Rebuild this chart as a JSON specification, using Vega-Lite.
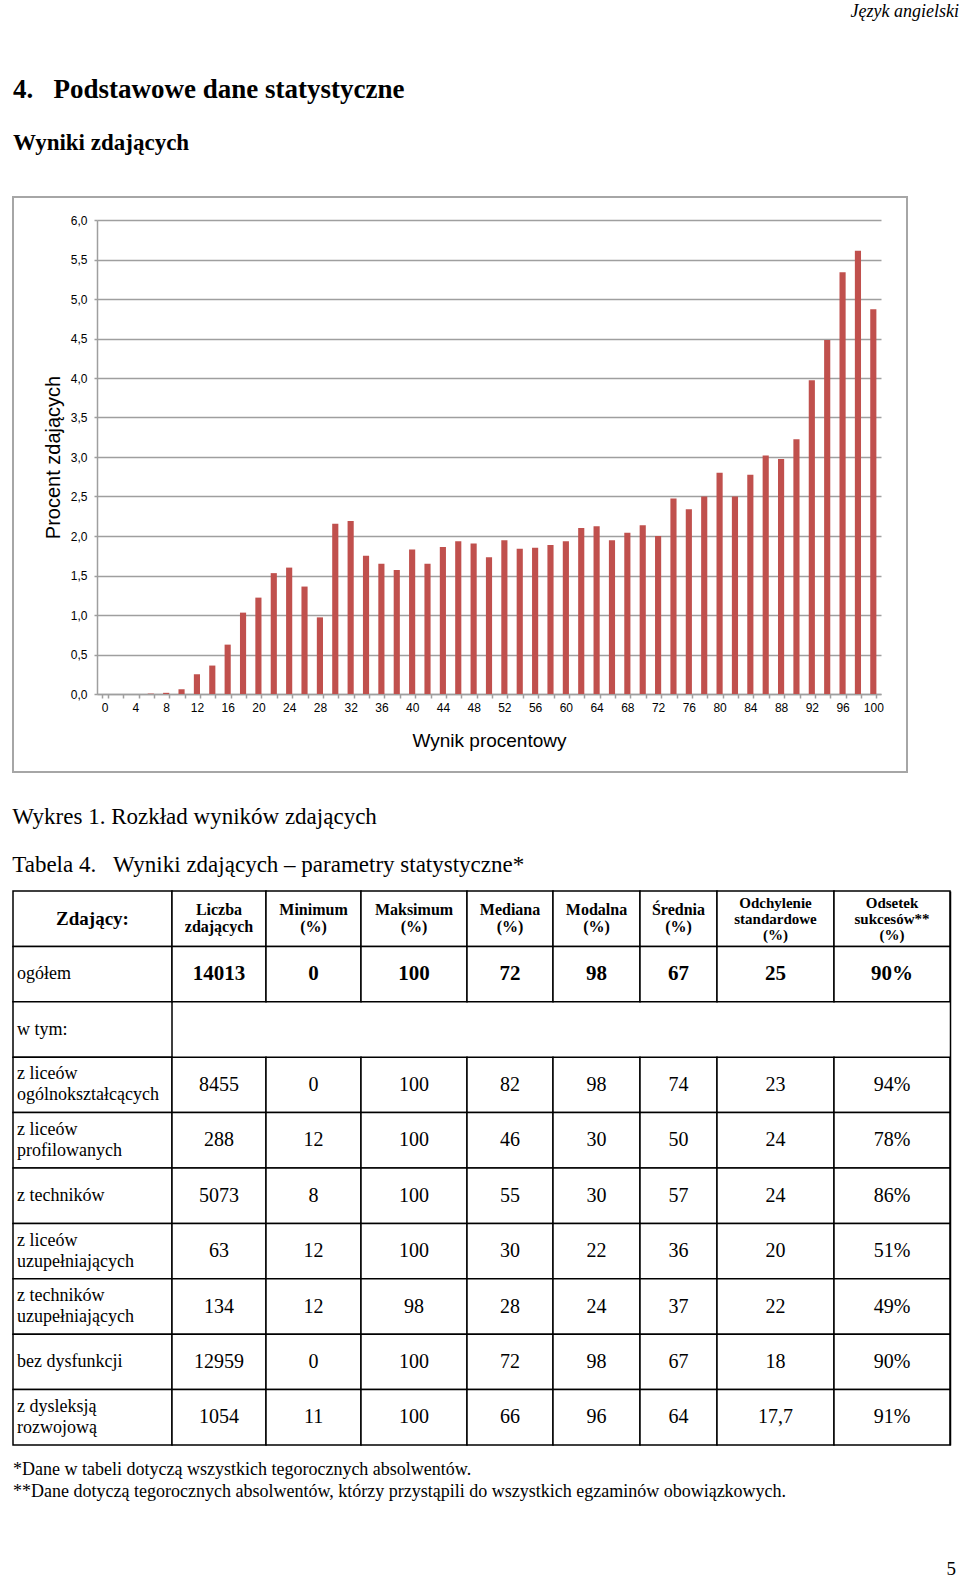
{
  "$schema": "https://vega.github.io/schema/vega-lite/v6.json",
  "background": "white",
  "padding": {"left": 12, "top": 3, "right": 0, "bottom": 0},
  "title": {"text": "Język angielski", "anchor": "end", "font": "Liberation Serif", "fontStyle": "italic", "fontWeight": "normal", "fontSize": 18, "offset": 54, "dx": 3},
  "spacing": 33,
  "config": {
    "view": {"stroke": null},
    "title": {"font": "Liberation Serif", "color": "#000", "fontWeight": "normal", "subtitleColor": "#000", "subtitleFont": "Liberation Serif"},
    "text": {"font": "Liberation Serif", "color": "#000"}
  },
  "datasets": {
    "tab": [
      {"g": "Zdający:", "n": "Liczba\nzdających", "mn": "Minimum\n(%)", "mx": "Maksimum\n(%)", "me": "Mediana\n(%)", "mo": "Modalna\n(%)", "sr": "Średnia\n(%)", "sd": "Odchylenie\nstandardowe\n(%)", "od": "Odsetek\nsukcesów**\n(%)"},
      {"g": "ogółem", "n": "14013", "mn": "0", "mx": "100", "me": "72", "mo": "98", "sr": "67", "sd": "25", "od": "90%"},
      {"g": "w tym:"},
      {"g": "z liceów\nogólnokształcących", "n": "8455", "mn": "0", "mx": "100", "me": "82", "mo": "98", "sr": "74", "sd": "23", "od": "94%"},
      {"g": "z liceów\nprofilowanych", "n": "288", "mn": "12", "mx": "100", "me": "46", "mo": "30", "sr": "50", "sd": "24", "od": "78%"},
      {"g": "z techników", "n": "5073", "mn": "8", "mx": "100", "me": "55", "mo": "30", "sr": "57", "sd": "24", "od": "86%"},
      {"g": "z liceów\nuzupełniających", "n": "63", "mn": "12", "mx": "100", "me": "30", "mo": "22", "sr": "36", "sd": "20", "od": "51%"},
      {"g": "z techników\nuzupełniających", "n": "134", "mn": "12", "mx": "98", "me": "28", "mo": "24", "sr": "37", "sd": "22", "od": "49%"},
      {"g": "bez dysfunkcji", "n": "12959", "mn": "0", "mx": "100", "me": "72", "mo": "98", "sr": "67", "sd": "18", "od": "90%"},
      {"g": "z dysleksją\nrozwojową", "n": "1054", "mn": "11", "mx": "100", "me": "66", "mo": "96", "sr": "64", "sd": "17,7", "od": "91%"}
    ]
  },
  "vconcat": [
    {
      "width": 894,
      "height": 575,
      "title": {"text": "4.\u00a0\u00a0\u00a0Podstawowe dane statystyczne", "subtitle": "Wyniki zdających", "anchor": "start", "frame": "group", "fontSize": 27, "fontWeight": "bold", "subtitleFontSize": 23, "subtitleFontWeight": "bold", "subtitlePadding": 28, "offset": 41},
      "view": {"stroke": "#a6a6a6", "strokeWidth": 2},
      "data": {"values": [
        {"wynik": 0, "procent": 0}, {"wynik": 2, "procent": 0}, {"wynik": 4, "procent": 0},
        {"wynik": 6, "procent": 0.005}, {"wynik": 8, "procent": 0.015}, {"wynik": 10, "procent": 0.06},
        {"wynik": 12, "procent": 0.25}, {"wynik": 14, "procent": 0.36}, {"wynik": 16, "procent": 0.625},
        {"wynik": 18, "procent": 1.03}, {"wynik": 20, "procent": 1.22}, {"wynik": 22, "procent": 1.53},
        {"wynik": 24, "procent": 1.6}, {"wynik": 26, "procent": 1.36}, {"wynik": 28, "procent": 0.97},
        {"wynik": 30, "procent": 2.155}, {"wynik": 32, "procent": 2.19}, {"wynik": 34, "procent": 1.75},
        {"wynik": 36, "procent": 1.65}, {"wynik": 38, "procent": 1.57}, {"wynik": 40, "procent": 1.83},
        {"wynik": 42, "procent": 1.65}, {"wynik": 44, "procent": 1.86}, {"wynik": 46, "procent": 1.935},
        {"wynik": 48, "procent": 1.905}, {"wynik": 50, "procent": 1.73}, {"wynik": 52, "procent": 1.945},
        {"wynik": 54, "procent": 1.84}, {"wynik": 56, "procent": 1.85}, {"wynik": 58, "procent": 1.885},
        {"wynik": 60, "procent": 1.935}, {"wynik": 62, "procent": 2.1}, {"wynik": 64, "procent": 2.125},
        {"wynik": 66, "procent": 1.945}, {"wynik": 68, "procent": 2.04}, {"wynik": 70, "procent": 2.135},
        {"wynik": 72, "procent": 2.0}, {"wynik": 74, "procent": 2.475}, {"wynik": 76, "procent": 2.34},
        {"wynik": 78, "procent": 2.5}, {"wynik": 80, "procent": 2.8}, {"wynik": 82, "procent": 2.5},
        {"wynik": 84, "procent": 2.775}, {"wynik": 86, "procent": 3.02}, {"wynik": 88, "procent": 2.975},
        {"wynik": 90, "procent": 3.225}, {"wynik": 92, "procent": 3.97}, {"wynik": 94, "procent": 4.48},
        {"wynik": 96, "procent": 5.34}, {"wynik": 98, "procent": 5.61}, {"wynik": 100, "procent": 4.87}
      ]},
      "mark": {"type": "bar", "color": "#c0504d"},
      "encoding": {
        "x": {
          "field": "wynik", "type": "ordinal",
          "scale": {"range": [84, 868], "paddingInner": 0.6, "paddingOuter": 0.3},
          "axis": {
            "orient": "bottom", "offset": -78, "labelAngle": 0, "labelOverlap": false,
            "labelExpr": "datum.value % 4 === 0 ? datum.label : ''",
            "tickBand": "extent", "tickSize": 4, "tickColor": "#9f9f9f", "tickWidth": 1.5,
            "labelPadding": 4, "labelFont": "Liberation Sans", "labelFontSize": 12, "labelColor": "#000",
            "domainColor": "#9f9f9f", "domainWidth": 1.5,
            "title": "Wynik procentowy", "titleFont": "Liberation Sans", "titleFontSize": 19, "titleFontWeight": "normal", "titleColor": "#000", "titlePadding": 18
          }
        },
        "y": {
          "field": "procent", "type": "quantitative",
          "scale": {"domain": [0, 6], "range": [497, 23], "nice": false},
          "axis": {
            "orient": "left", "offset": -84,
            "values": [0, 0.5, 1, 1.5, 2, 2.5, 3, 3.5, 4, 4.5, 5, 5.5, 6],
            "labelExpr": "replace(format(datum.value, '.1f'), '.', ',')",
            "labelFont": "Liberation Sans", "labelFontSize": 12, "labelColor": "#000", "labelPadding": 7,
            "tickSize": 3, "tickColor": "#9f9f9f", "tickWidth": 1.5,
            "domainColor": "#9f9f9f", "domainWidth": 1.5,
            "grid": true, "gridColor": "#9f9f9f", "gridWidth": 1.5,
            "title": "Procent zdających", "titleFont": "Liberation Sans", "titleFontSize": 20, "titleFontWeight": "normal", "titleColor": "#000", "titlePadding": 7
          }
        }
      }
    },
    {
      "title": {"text": "Wykres 1. Rozkład wyników zdających", "subtitle": "Tabela 4.\u00a0\u00a0 Wyniki zdających – parametry statystyczne*", "anchor": "start", "fontSize": 23, "subtitleFontSize": 23, "subtitlePadding": 25, "offset": 13},
      "spacing": 14,
      "vconcat": [
        {
          "spacing": 0,
          "bounds": "flush",
          "hconcat": [
            {
              "width": 159, "height": 554,
              "data": {"name": "tab"},
              "transform": [{"fold": ["g"], "as": ["col", "txt"]}],
              "encoding": {
                "y": {"field": "g", "type": "nominal", "scale": {"domain": ["Zdający:", "ogółem", "w tym:", "z liceów\nogólnokształcących", "z liceów\nprofilowanych", "z techników", "z liceów\nuzupełniających", "z techników\nuzupełniających", "bez dysfunkcji", "z dysleksją\nrozwojową"], "paddingInner": 0, "paddingOuter": 0}, "axis": null},
                "x": {"field": "col", "type": "nominal", "scale": {"paddingInner": 0, "paddingOuter": 0}, "axis": null}
              },
              "layer": [
                {"mark": {"type": "rect", "fill": "white", "stroke": "#000", "strokeWidth": 1.5}},
                {"transform": [{"filter": "datum.g === 'Zdający:'"}], "mark": {"type": "text", "fontSize": 19, "fontWeight": "bold"}, "encoding": {"text": {"field": "txt"}}},
                {"transform": [{"filter": "datum.g !== 'Zdający:' && indexof(datum.txt, '\\n') < 0"}], "mark": {"type": "text", "align": "left", "dx": 4, "fontSize": 18}, "encoding": {"text": {"field": "txt"}, "x": {"field": "col", "type": "nominal", "bandPosition": 0}}},
                {"transform": [{"filter": "indexof(datum.txt, '\\n') >= 0"}], "mark": {"type": "text", "align": "left", "dx": 4, "dy": -10.5, "fontSize": 18, "lineBreak": "\n", "lineHeight": 21}, "encoding": {"text": {"field": "txt"}, "x": {"field": "col", "type": "nominal", "bandPosition": 0}}}
              ]
            },
            {"width": 94, "height": 554, "data": {"name": "tab"}, "transform": [{"filter": "isValid(datum.n)"}],
              "encoding": {"y": {"field": "g", "type": "nominal", "scale": {"domain": ["Zdający:", "ogółem", "w tym:", "z liceów\nogólnokształcących", "z liceów\nprofilowanych", "z techników", "z liceów\nuzupełniających", "z techników\nuzupełniających", "bez dysfunkcji", "z dysleksją\nrozwojową"], "paddingInner": 0, "paddingOuter": 0}, "axis": null}, "text": {"field": "n"}},
              "layer": [
                {"mark": {"type": "rect", "fill": "white", "stroke": "#000", "strokeWidth": 1.5}},
                {"transform": [{"filter": "datum.g === 'Zdający:'"}], "mark": {"type": "text", "fontSize": 16, "fontWeight": "bold", "lineBreak": "\n", "lineHeight": 17, "dy": -8.5}},
                {"transform": [{"filter": "datum.g === 'ogółem'"}], "mark": {"type": "text", "fontSize": 21, "fontWeight": "bold"}},
                {"transform": [{"filter": "datum.g !== 'Zdający:' && datum.g !== 'ogółem'"}], "mark": {"type": "text", "fontSize": 20}}
              ]
            },
            {"width": 95, "height": 554, "data": {"name": "tab"}, "transform": [{"filter": "isValid(datum.mn)"}],
              "encoding": {"y": {"field": "g", "type": "nominal", "scale": {"domain": ["Zdający:", "ogółem", "w tym:", "z liceów\nogólnokształcących", "z liceów\nprofilowanych", "z techników", "z liceów\nuzupełniających", "z techników\nuzupełniających", "bez dysfunkcji", "z dysleksją\nrozwojową"], "paddingInner": 0, "paddingOuter": 0}, "axis": null}, "text": {"field": "mn"}},
              "layer": [
                {"mark": {"type": "rect", "fill": "white", "stroke": "#000", "strokeWidth": 1.5}},
                {"transform": [{"filter": "datum.g === 'Zdający:'"}], "mark": {"type": "text", "fontSize": 16, "fontWeight": "bold", "lineBreak": "\n", "lineHeight": 17, "dy": -8.5}},
                {"transform": [{"filter": "datum.g === 'ogółem'"}], "mark": {"type": "text", "fontSize": 21, "fontWeight": "bold"}},
                {"transform": [{"filter": "datum.g !== 'Zdający:' && datum.g !== 'ogółem'"}], "mark": {"type": "text", "fontSize": 20}}
              ]
            },
            {"width": 106, "height": 554, "data": {"name": "tab"}, "transform": [{"filter": "isValid(datum.mx)"}],
              "encoding": {"y": {"field": "g", "type": "nominal", "scale": {"domain": ["Zdający:", "ogółem", "w tym:", "z liceów\nogólnokształcących", "z liceów\nprofilowanych", "z techników", "z liceów\nuzupełniających", "z techników\nuzupełniających", "bez dysfunkcji", "z dysleksją\nrozwojową"], "paddingInner": 0, "paddingOuter": 0}, "axis": null}, "text": {"field": "mx"}},
              "layer": [
                {"mark": {"type": "rect", "fill": "white", "stroke": "#000", "strokeWidth": 1.5}},
                {"transform": [{"filter": "datum.g === 'Zdający:'"}], "mark": {"type": "text", "fontSize": 16, "fontWeight": "bold", "lineBreak": "\n", "lineHeight": 17, "dy": -8.5}},
                {"transform": [{"filter": "datum.g === 'ogółem'"}], "mark": {"type": "text", "fontSize": 21, "fontWeight": "bold"}},
                {"transform": [{"filter": "datum.g !== 'Zdający:' && datum.g !== 'ogółem'"}], "mark": {"type": "text", "fontSize": 20}}
              ]
            },
            {"width": 86, "height": 554, "data": {"name": "tab"}, "transform": [{"filter": "isValid(datum.me)"}],
              "encoding": {"y": {"field": "g", "type": "nominal", "scale": {"domain": ["Zdający:", "ogółem", "w tym:", "z liceów\nogólnokształcących", "z liceów\nprofilowanych", "z techników", "z liceów\nuzupełniających", "z techników\nuzupełniających", "bez dysfunkcji", "z dysleksją\nrozwojową"], "paddingInner": 0, "paddingOuter": 0}, "axis": null}, "text": {"field": "me"}},
              "layer": [
                {"mark": {"type": "rect", "fill": "white", "stroke": "#000", "strokeWidth": 1.5}},
                {"transform": [{"filter": "datum.g === 'Zdający:'"}], "mark": {"type": "text", "fontSize": 16, "fontWeight": "bold", "lineBreak": "\n", "lineHeight": 17, "dy": -8.5}},
                {"transform": [{"filter": "datum.g === 'ogółem'"}], "mark": {"type": "text", "fontSize": 21, "fontWeight": "bold"}},
                {"transform": [{"filter": "datum.g !== 'Zdający:' && datum.g !== 'ogółem'"}], "mark": {"type": "text", "fontSize": 20}}
              ]
            },
            {"width": 87, "height": 554, "data": {"name": "tab"}, "transform": [{"filter": "isValid(datum.mo)"}],
              "encoding": {"y": {"field": "g", "type": "nominal", "scale": {"domain": ["Zdający:", "ogółem", "w tym:", "z liceów\nogólnokształcących", "z liceów\nprofilowanych", "z techników", "z liceów\nuzupełniających", "z techników\nuzupełniających", "bez dysfunkcji", "z dysleksją\nrozwojową"], "paddingInner": 0, "paddingOuter": 0}, "axis": null}, "text": {"field": "mo"}},
              "layer": [
                {"mark": {"type": "rect", "fill": "white", "stroke": "#000", "strokeWidth": 1.5}},
                {"transform": [{"filter": "datum.g === 'Zdający:'"}], "mark": {"type": "text", "fontSize": 16, "fontWeight": "bold", "lineBreak": "\n", "lineHeight": 17, "dy": -8.5}},
                {"transform": [{"filter": "datum.g === 'ogółem'"}], "mark": {"type": "text", "fontSize": 21, "fontWeight": "bold"}},
                {"transform": [{"filter": "datum.g !== 'Zdający:' && datum.g !== 'ogółem'"}], "mark": {"type": "text", "fontSize": 20}}
              ]
            },
            {"width": 77, "height": 554, "data": {"name": "tab"}, "transform": [{"filter": "isValid(datum.sr)"}],
              "encoding": {"y": {"field": "g", "type": "nominal", "scale": {"domain": ["Zdający:", "ogółem", "w tym:", "z liceów\nogólnokształcących", "z liceów\nprofilowanych", "z techników", "z liceów\nuzupełniających", "z techników\nuzupełniających", "bez dysfunkcji", "z dysleksją\nrozwojową"], "paddingInner": 0, "paddingOuter": 0}, "axis": null}, "text": {"field": "sr"}},
              "layer": [
                {"mark": {"type": "rect", "fill": "white", "stroke": "#000", "strokeWidth": 1.5}},
                {"transform": [{"filter": "datum.g === 'Zdający:'"}], "mark": {"type": "text", "fontSize": 16, "fontWeight": "bold", "lineBreak": "\n", "lineHeight": 17, "dy": -8.5}},
                {"transform": [{"filter": "datum.g === 'ogółem'"}], "mark": {"type": "text", "fontSize": 21, "fontWeight": "bold"}},
                {"transform": [{"filter": "datum.g !== 'Zdający:' && datum.g !== 'ogółem'"}], "mark": {"type": "text", "fontSize": 20}}
              ]
            },
            {"width": 117, "height": 554, "data": {"name": "tab"}, "transform": [{"filter": "isValid(datum.sd)"}],
              "encoding": {"y": {"field": "g", "type": "nominal", "scale": {"domain": ["Zdający:", "ogółem", "w tym:", "z liceów\nogólnokształcących", "z liceów\nprofilowanych", "z techników", "z liceów\nuzupełniających", "z techników\nuzupełniających", "bez dysfunkcji", "z dysleksją\nrozwojową"], "paddingInner": 0, "paddingOuter": 0}, "axis": null}, "text": {"field": "sd"}},
              "layer": [
                {"mark": {"type": "rect", "fill": "white", "stroke": "#000", "strokeWidth": 1.5}},
                {"transform": [{"filter": "datum.g === 'Zdający:'"}], "mark": {"type": "text", "fontSize": 15, "fontWeight": "bold", "lineBreak": "\n", "lineHeight": 16, "dy": -16}},
                {"transform": [{"filter": "datum.g === 'ogółem'"}], "mark": {"type": "text", "fontSize": 21, "fontWeight": "bold"}},
                {"transform": [{"filter": "datum.g !== 'Zdający:' && datum.g !== 'ogółem'"}], "mark": {"type": "text", "fontSize": 20}}
              ]
            },
            {"width": 116, "height": 554, "data": {"name": "tab"}, "transform": [{"filter": "isValid(datum.od)"}],
              "encoding": {"y": {"field": "g", "type": "nominal", "scale": {"domain": ["Zdający:", "ogółem", "w tym:", "z liceów\nogólnokształcących", "z liceów\nprofilowanych", "z techników", "z liceów\nuzupełniających", "z techników\nuzupełniających", "bez dysfunkcji", "z dysleksją\nrozwojową"], "paddingInner": 0, "paddingOuter": 0}, "axis": {"orient": "right", "domainColor": "#000", "domainWidth": 1.5, "labels": false, "ticks": false, "grid": false, "title": null}}, "text": {"field": "od"}},
              "layer": [
                {"mark": {"type": "rect", "fill": "white", "stroke": "#000", "strokeWidth": 1.5}},
                {"transform": [{"filter": "datum.g === 'Zdający:'"}], "mark": {"type": "text", "fontSize": 15, "fontWeight": "bold", "lineBreak": "\n", "lineHeight": 16, "dy": -16}},
                {"transform": [{"filter": "datum.g === 'ogółem'"}], "mark": {"type": "text", "fontSize": 21, "fontWeight": "bold"}},
                {"transform": [{"filter": "datum.g !== 'Zdający:' && datum.g !== 'ogółem'"}], "mark": {"type": "text", "fontSize": 20}}
              ]
            }
          ]
        },
        {
          "width": 937, "height": 1,
          "data": {"values": [{}]},
          "mark": {"type": "text", "text": ""},
          "title": {"text": ["*Dane w tabeli dotyczą wszystkich tegorocznych absolwentów.", "**Dane dotyczą tegorocznych absolwentów, którzy przystąpili do wszystkich egzaminów obowiązkowych."], "anchor": "start", "frame": "group", "fontSize": 18, "lineHeight": 22, "offset": 0}
        }
      ]
    },
    {
      "width": 937, "height": 9,
      "data": {"values": [{}]},
      "mark": {"type": "text", "text": ""},
      "title": {"text": "5", "orient": "bottom", "anchor": "end", "frame": "group", "fontSize": 19, "offset": 3, "dx": 6}
    }
  ]
}
